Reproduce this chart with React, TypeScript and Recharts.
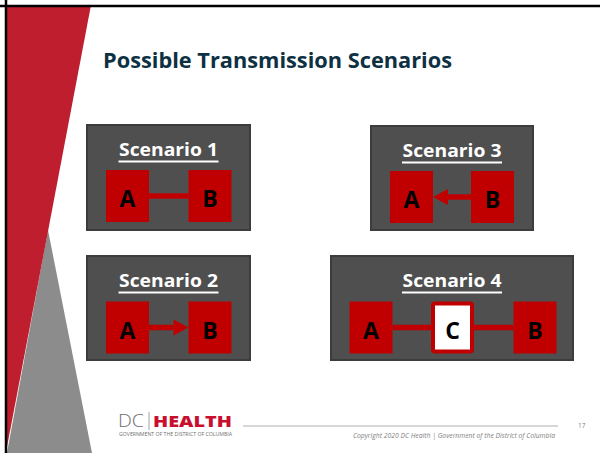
import React from 'react';
import { ScatterChart, Scatter, XAxis, YAxis, ReferenceArea, ReferenceLine } from 'recharts';

// slide is drawn in its own pixel space: x 0..600, y 0..453 (y goes down)
const scenarioNames = ['Scenario 1', 'Scenario 2', 'Scenario 3', 'Scenario 4'];
const boxX1 = [87, 87, 371, 331];
const boxX2 = [250, 250, 533, 573];
const boxY1 = [125, 256, 126, 256];
const boxY2 = [230, 360, 230, 360];

const nodeLabels = ['A', 'B', 'A', 'B', 'A', 'B', 'A', 'C', 'B'];
const nodeX = [127.5, 210, 127.5, 210, 411.5, 492.5, 371, 452.5, 535];
const nodeY = [196, 196, 327.5, 327.5, 197, 197, 327.5, 327.5, 327.5];

// links between nodes (index into the node arrays); arrow = arrowhead at the target
const linkFrom = [0, 2, 5, 6, 7];
const linkTo = [1, 3, 4, 7, 8];
const linkArrow = [false, true, true, false, false];

const NODE_W = 43;
const NODE_H = 52;
const RED = '#C00000';
const FONT = '"Open Sans", "Noto Sans", sans-serif';

const nodes = nodeLabels.map((label, i) => ({ x: nodeX[i], y: nodeY[i], label }));

const NodeShape = (props: any) => {
  const { cx, cy, payload } = props;
  const hollow = payload.label === 'C';
  return (
    <g>
      {hollow ? (
        <rect x={cx - NODE_W / 2 + 2} y={cy - NODE_H / 2 + 2} width={NODE_W - 4} height={NODE_H - 4}
          fill="#fff" stroke={RED} strokeWidth={4} rx={2} />
      ) : (
        <rect x={cx - NODE_W / 2} y={cy - NODE_H / 2} width={NODE_W} height={NODE_H} fill={RED} />
      )}
      <text x={cx} y={cy + 11} textAnchor="middle" fontFamily={FONT} fontWeight={700}
        fontSize={23} fill="#000">{payload.label}</text>
    </g>
  );
};

const LinkShape = (arrow: boolean) => (props: any) => {
  const { x1, y1, x2, y2 } = props;
  const dir = x2 > x1 ? 1 : -1;
  const head = 15;
  if (!arrow) {
    return <line x1={x1} y1={y1} x2={x2} y2={y2} stroke={RED} strokeWidth={5.5} />;
  }
  const bx = x2 - dir * head;
  return (
    <g>
      <line x1={x1} y1={y1} x2={bx} y2={y2} stroke={RED} strokeWidth={5.5} />
      <polygon points={`${x2},${y2} ${bx},${y2 - 8} ${bx},${y2 + 8}`} fill={RED} />
    </g>
  );
};

const BoxTitle = (props: any) => {
  const { viewBox, text } = props;
  const cx = viewBox.x + viewBox.width / 2;
  const base = viewBox.y + 31;
  return (
    <g>
      <text x={cx} y={base} textAnchor="middle" fontFamily={FONT} fontWeight={700} fontSize={18}
        fill="#fff" textLength={99} lengthAdjust="spacingAndGlyphs">{text}</text>
      <line x1={cx - 50} x2={cx + 50} y1={base + 5.5} y2={base + 5.5} stroke="#fff" strokeWidth={2} />
    </g>
  );
};

const RedWedge = (props: any) => {
  const { x, y, width, height } = props;
  return <polygon points={`${x},${y} ${x + width},${y} ${x},${y + height}`} fill="#BE1E2D" />;
};

const GrayWedge = (props: any) => {
  const { x, y, width, height } = props;
  return <polygon points={`${x + 41},${y} ${x + width},${y + height} ${x},${y + height}`} fill="#8C8C8C" />;
};

export default function App() {
  return (
    <div style={{ position: 'absolute', left: 0, top: 0, width: 600, height: 453, background: '#fff' }}>
      <ScatterChart width={600} height={453} margin={{ top: 0, right: 0, bottom: 0, left: 0 }}>
        <XAxis type="number" dataKey="x" domain={[0, 600]} hide allowDataOverflow />
        <YAxis type="number" dataKey="y" domain={[0, 453]} reversed hide allowDataOverflow />

        <ReferenceArea x1={7} x2={92} y1={230} y2={453} shape={GrayWedge} ifOverflow="visible" />
        <ReferenceArea x1={7} x2={91} y1={5} y2={447} shape={RedWedge} ifOverflow="visible" />
        <ReferenceLine x={6} stroke="#000" strokeWidth={2.5} />
        <ReferenceLine y={6} stroke="#000" strokeWidth={2.5} />

        {scenarioNames.map((name, i) => (
          <ReferenceArea key={name} x1={boxX1[i]} x2={boxX2[i]} y1={boxY1[i]} y2={boxY2[i]}
            fill="#4F4F4F" fillOpacity={1} stroke="#3C3C3C" strokeWidth={2}
            label={<BoxTitle text={name} />} />
        ))}

        {linkFrom.map((f, i) => {
          const t = linkTo[i];
          const dir = nodeX[t] > nodeX[f] ? 1 : -1;
          return (
            <ReferenceLine key={i}
              segment={[
                { x: nodeX[f] + dir * NODE_W / 2, y: nodeY[f] },
                { x: nodeX[t] - dir * NODE_W / 2, y: nodeY[t] },
              ]}
              shape={LinkShape(linkArrow[i])} />
          );
        })}

        <Scatter data={nodes} shape={NodeShape} isAnimationActive={false} />
      </ScatterChart>

      <svg width={600} height={453} style={{ position: 'absolute', left: 0, top: 0, pointerEvents: 'none' }}>
        <text x={103} y={68} fontFamily={FONT} fontWeight={700} fontSize={21} fill="#0D3042"
          textLength={349} lengthAdjust="spacingAndGlyphs">Possible Transmission Scenarios</text>

        <text x={118} y={427} fontFamily={FONT} fontWeight={300} fontSize={19} fill="#6D6E71"
          textLength={26} lengthAdjust="spacingAndGlyphs">DC</text>
        <line x1={149} x2={149} y1={412} y2={430} stroke="#8A8A8A" strokeWidth={0.8} />
        <text x={153} y={427} fontFamily={FONT} fontWeight={800} fontSize={16} fill="#C8102E"
          textLength={79} lengthAdjust="spacingAndGlyphs">HEALTH</text>
        <text x={119} y={436} fontFamily={FONT} fontSize={4.5} fill="#6D6E71"
          textLength={113} lengthAdjust="spacingAndGlyphs">GOVERNMENT OF THE DISTRICT OF COLUMBIA</text>
        <line x1={243} x2={558} y1={426} y2={426} stroke="#9A9A9A" strokeWidth={0.8} />
        <text x={353} y={438} fontFamily={FONT} fontStyle="italic" fontSize={7.5} fill="#7F7F7F"
          textLength={202} lengthAdjust="spacingAndGlyphs">Copyright 2020 DC Health | Government of the District of Columbia</text>
        <text x={578} y={428} fontFamily={FONT} fontSize={6.5} fill="#7F7F7F">17</text>
      </svg>
    </div>
  );
}
